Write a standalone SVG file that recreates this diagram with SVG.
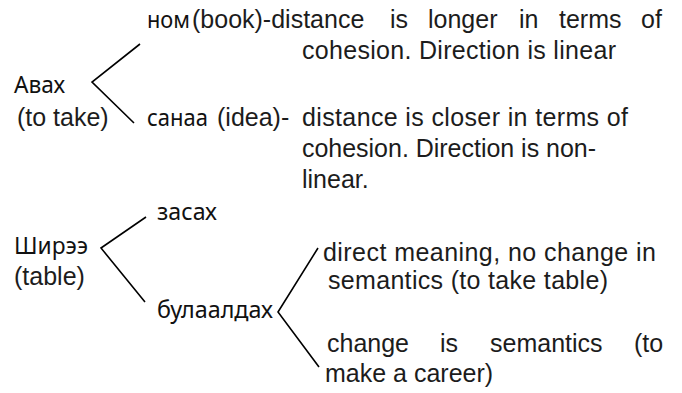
<svg xmlns="http://www.w3.org/2000/svg" width="682" height="393" viewBox="0 0 682 393">
<style>
.l{font-family:"Liberation Sans",Arial,sans-serif;font-size:25px;fill:#1c1c1c}
.c{font-family:"Noto Sans","Open Sans",sans-serif;font-size:24px;fill:#111}
.cn{stroke:#000;stroke-width:1.6;fill:none}
</style>
<rect width="682" height="393" fill="#fff"/>
<g id="connectors">
<polyline class="cn" points="140,44 92,82 134,123"/>
<polyline class="cn" points="146,217 101,248 145,302"/>
<polyline class="cn" points="318,248 278,312 319,367"/>
</g>
<g id="avah">
<text class="c" x="14" y="93" textLength="51" lengthAdjust="spacingAndGlyphs">Авах</text>
<text class="l" x="17" y="126">(to take)</text>
</g>
<g id="nom">
<text class="c" x="147" y="28" textLength="43" lengthAdjust="spacingAndGlyphs">ном</text>
<text class="l" x="192" y="28">(book)-distance</text>
<text class="l" x="390" y="28">is</text>
<text class="l" x="428" y="28">longer</text>
<text class="l" x="519" y="28">in</text>
<text class="l" x="559" y="28">terms</text>
<text class="l" x="641" y="28">of</text>
<text class="l" x="302" y="59" textLength="314" lengthAdjust="spacing">cohesion. Direction is linear</text>
</g>
<g id="sanaa">
<text class="c" x="147" y="126" textLength="61" lengthAdjust="spacingAndGlyphs">санаа</text>
<text class="l" x="217" y="126">(idea)-</text>
<text class="l" x="302" y="126" textLength="326" lengthAdjust="spacing">distance is closer in terms of</text>
<text class="l" x="302" y="157" textLength="294" lengthAdjust="spacing">cohesion. Direction is non-</text>
<text class="l" x="302" y="188">linear.</text>
</g>
<g id="shiree">
<text class="c" x="14" y="254" textLength="74" lengthAdjust="spacingAndGlyphs">Ширээ</text>
<text class="l" x="14" y="285">(table)</text>
</g>
<g id="zasah">
<text class="c" x="157" y="220" textLength="60" lengthAdjust="spacingAndGlyphs">засах</text>
</g>
<g id="bulaaldah">
<text class="c" x="157" y="318" textLength="116" lengthAdjust="spacingAndGlyphs">булаалдах</text>
</g>
<g id="direct">
<text class="l" x="323" y="261" textLength="333" lengthAdjust="spacing">direct meaning, no change in</text>
<text class="l" x="328" y="289" textLength="280" lengthAdjust="spacing">semantics (to take table)</text>
</g>
<g id="change">
<text class="l" x="327" y="352">change</text>
<text class="l" x="440" y="352">is</text>
<text class="l" x="490" y="352">semantics</text>
<text class="l" x="634" y="352">(to</text>
<text class="l" x="325" y="382">make a career)</text>
</g>
</svg>
